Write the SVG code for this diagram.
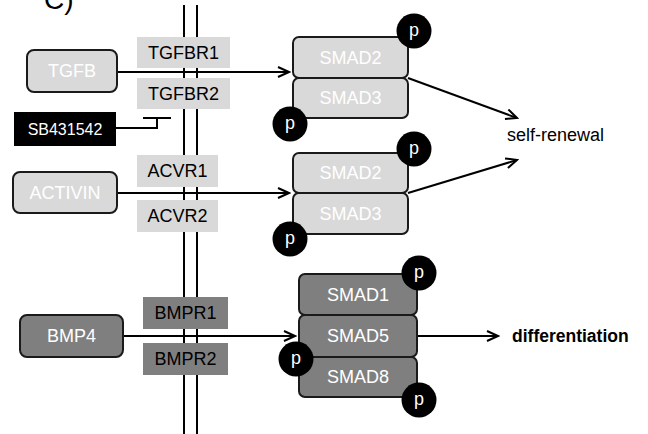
<svg xmlns="http://www.w3.org/2000/svg" width="648" height="434" viewBox="0 0 648 434">
<defs>
<marker id="arr" markerWidth="14" markerHeight="12" refX="12" refY="6" orient="auto" markerUnits="userSpaceOnUse">
<path d="M1,1 L12,6 L1,11" fill="none" stroke="#000" stroke-width="2"/>
</marker>
<style>
text{font-family:"Liberation Sans",Arial,sans-serif;font-size:18px;text-anchor:middle;dominant-baseline:central}
.lig{fill:#d9d9d9;stroke:#1a1a1a;stroke-width:2}
.drk{fill:#7f7f7f;stroke:#1a1a1a;stroke-width:2}
.recl{fill:#d9d9d9}
.recd{fill:#7f7f7f}
.w{fill:#fff}
.b{fill:#000}
.pc{fill:#000}
.ln{stroke:#000;stroke-width:2;fill:none}
</style>
</defs>
<rect width="648" height="434" fill="#fff"/>
<text x="44" y="9" style="font-size:28px;text-anchor:start;dominant-baseline:auto">C)</text>
<g id="membrane">
<line x1="184" y1="5" x2="184" y2="434" class="ln"/>
<line x1="197" y1="5" x2="197" y2="434" class="ln"/>
</g>
<g id="TGFBR1"><rect x="137" y="37" width="93" height="31" class="recl"/><text x="183.5" y="53" class="b">TGFBR1</text></g>
<g id="TGFBR2"><rect x="137" y="78" width="93" height="31" class="recl"/><text x="183.5" y="94" class="b">TGFBR2</text></g>
<g id="ACVR1"><rect x="137" y="155" width="81" height="32" class="recl"/><text x="177.5" y="171" class="b">ACVR1</text></g>
<g id="ACVR2"><rect x="137" y="200" width="81" height="32" class="recl"/><text x="177.5" y="216" class="b">ACVR2</text></g>
<g id="BMPR1"><rect x="143" y="297" width="85" height="32" class="recd"/><text x="185.5" y="313" class="b">BMPR1</text></g>
<g id="BMPR2"><rect x="143" y="343" width="85" height="32" class="recd"/><text x="185.5" y="359" class="b">BMPR2</text></g>
<g id="connectors">
<line x1="117" y1="72" x2="289" y2="72" class="ln" marker-end="url(#arr)"/>
<polyline points="116,128 157,128 157,118" class="ln"/>
<line x1="143" y1="118" x2="171" y2="118" class="ln"/>
<line x1="117" y1="193" x2="289" y2="193" class="ln" marker-end="url(#arr)"/>
<line x1="123" y1="336" x2="295" y2="336" class="ln" marker-end="url(#arr)"/>
<line x1="408" y1="78" x2="517" y2="118" class="ln" marker-end="url(#arr)"/>
<line x1="408" y1="193" x2="517" y2="160" class="ln" marker-end="url(#arr)"/>
<line x1="417" y1="336" x2="498" y2="336" class="ln" marker-end="url(#arr)"/>
</g>
<g id="TGFB"><rect x="27" y="50" width="90" height="42" rx="7" class="lig"/><text x="72" y="71" class="w">TGFB</text></g>
<g id="SB431542"><rect x="14" y="112" width="102" height="34" fill="#000"/><text x="65" y="129" class="w" style="font-size:16px">SB431542</text></g>
<g id="ACTIVIN"><rect x="13" y="172" width="104" height="41" rx="7" class="lig"/><text x="65" y="193" class="w">ACTIVIN</text></g>
<g id="BMP4"><rect x="20" y="315" width="103" height="42" rx="7" class="drk"/><text x="71.5" y="336" class="w">BMP4</text></g>
<g id="SMAD2a"><rect x="293" y="37" width="115" height="41" rx="6" class="lig"/><text x="350.5" y="58" class="w">SMAD2</text></g>
<g id="SMAD3a"><rect x="293" y="78" width="115" height="40" rx="6" class="lig"/><text x="350.5" y="98" class="w">SMAD3</text></g>
<g id="p1"><circle cx="414" cy="31" r="17.5" class="pc"/><text x="414" y="30" class="w">p</text></g>
<g id="p2"><circle cx="290" cy="124" r="17.5" class="pc"/><text x="290" y="123" class="w">p</text></g>
<g id="SMAD2b"><rect x="293" y="153" width="115" height="40" rx="6" class="lig"/><text x="350.5" y="173" class="w">SMAD2</text></g>
<g id="SMAD3b"><rect x="293" y="193" width="115" height="41" rx="6" class="lig"/><text x="350.5" y="214" class="w">SMAD3</text></g>
<g id="p3"><circle cx="414" cy="149" r="17.5" class="pc"/><text x="414" y="148" class="w">p</text></g>
<g id="p4"><circle cx="290" cy="239" r="17.5" class="pc"/><text x="290" y="238" class="w">p</text></g>
<g id="SMAD1"><rect x="299" y="274" width="118" height="41" rx="6" class="drk"/><text x="358" y="295" class="w">SMAD1</text></g>
<g id="SMAD5"><rect x="299" y="315" width="118" height="42" rx="6" class="drk"/><text x="358" y="336" class="w">SMAD5</text></g>
<g id="SMAD8"><rect x="299" y="357" width="118" height="40" rx="6" class="drk"/><text x="358" y="377" class="w">SMAD8</text></g>
<g id="p5"><circle cx="419" cy="273" r="17.5" class="pc"/><text x="419" y="272" class="w">p</text></g>
<g id="p6"><circle cx="296" cy="359" r="17.5" class="pc"/><text x="296" y="358" class="w">p</text></g>
<g id="p7"><circle cx="419" cy="400" r="17.5" class="pc"/><text x="419" y="399" class="w">p</text></g>
<g id="self-renewal"><text x="507" y="135" class="b" style="text-anchor:start">self-renewal</text></g>
<g id="differentiation"><text x="512" y="336" class="b" style="text-anchor:start;font-weight:bold;font-size:17.5px">differentiation</text></g>
</svg>
